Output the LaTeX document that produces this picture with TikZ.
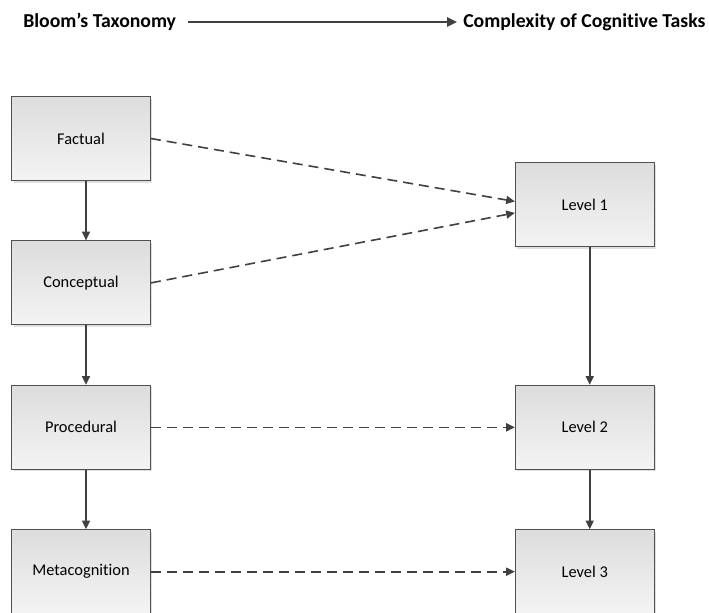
\documentclass[tikz,border=0pt]{standalone}
\usepackage{fontspec}
\setmainfont{Carlito}[Ligatures={TeX,NoCommon}]
\usetikzlibrary{positioning,arrows.meta,shadows}
\definecolor{boxline}{HTML}{505050}
\definecolor{conline}{HTML}{404040}

\begin{document}
\begin{tikzpicture}[x=0.75pt,y=-0.75pt,
			box/.style={draw=boxline,line width=0.8pt,rectangle,minimum width=104pt,minimum height=63pt,
				top color=gray!27,bottom color=gray!9,font=\fontsize{12.3}{14}\selectfont,
				drop shadow={shadow xshift=1.5pt,shadow yshift=-1.5pt,fill=black,opacity=.12}},
			head/.style={font=\bfseries\fontsize{14.8}{17}\selectfont,inner sep=4.5pt},
			solidarrow/.style={draw=conline,line width=1.2pt,-{Triangle[length=6.5pt,width=6pt]}},
			dasharrow/.style={solidarrow,dash pattern=on 7.5pt off 4.5pt},
			node distance=44.5pt]
			\useasboundingbox (0,0) rectangle (709,612);

			\node (bloom) [head,anchor=west] at (17,22) {Bloom’s Taxonomy};
			\node (cplx) [head,anchor=west] at (457,22) {Complexity of Cognitive Tasks};
			\draw [draw=conline,line width=1.3pt,-{Triangle[length=7.5pt,width=7pt]},shorten <=4.5pt] (bloom) -- (cplx);

			\node (fact) [box] at (81,138.5) {Factual};
			\node (conc) [box,below=of fact] {Conceptual};
			\node (proc) [box,below=of conc] {Procedural};
			\node (meta) [box,below=of proc] {Metacognition};

			\node (lvltwo) [box,right=273pt of proc] {Level 2};
			\node (lvlone) [box,above=103pt of lvltwo] {Level 1};
			\node (lvlthree) [box,below=of lvltwo] {Level 3};

			\draw [solidarrow] ([xshift=3.75pt]fact.south) -- ([xshift=3.75pt]conc.north);
			\draw [solidarrow] ([xshift=3.75pt]conc.south) -- ([xshift=3.75pt]proc.north);
			\draw [solidarrow] ([xshift=3.75pt]proc.south) -- ([xshift=3.75pt]meta.north);
			\draw [solidarrow] ([xshift=3.75pt]lvlone.south) -- ([xshift=3.75pt]lvltwo.north);
			\draw [solidarrow] ([xshift=3.75pt]lvltwo.south) -- ([xshift=3.75pt]lvlthree.north);

			\draw [dasharrow] (fact.east) -- ([yshift=2.6pt]lvlone.west);
			\draw [dasharrow] (conc.east) -- ([yshift=-6pt]lvlone.west);
			\draw [dasharrow] (proc.east) -- (lvltwo.west);
			\draw [dasharrow] (meta.east) -- (lvlthree.west);
		\end{tikzpicture}
\end{document}
